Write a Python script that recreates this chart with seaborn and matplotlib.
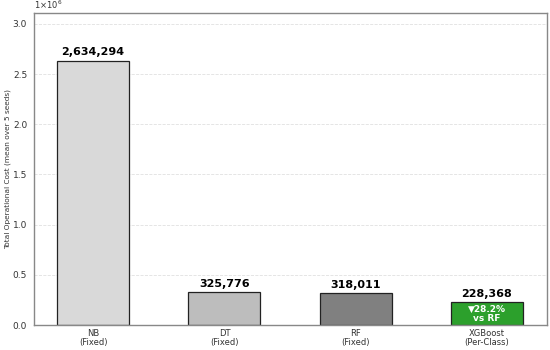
import matplotlib
matplotlib.use("Agg")
import matplotlib.pyplot as plt
import matplotlib.ticker as mticker
import seaborn as sns
import pandas as pd

models = ["NB\n(Fixed)", "DT\n(Fixed)", "RF\n(Fixed)", "XGBoost\n(Per-Class)"]
costs = [2634294, 325776, 318011, 228368]
colors = ["#d9d9d9", "#bdbdbd", "#808080", "#2ca02c"]

sns.set_style("white")
plt.rcParams["font.family"] = ["DejaVu Sans"]

df = pd.DataFrame({"model": models, "cost": costs})

fig, ax = plt.subplots(figsize=(5.5, 3.5), dpi=100)
fig.subplots_adjust(left=0.062, right=0.995, bottom=0.071, top=0.963)

sns.barplot(data=df, x="model", y="cost", hue="model", palette=colors, saturation=1,
            width=0.55, edgecolor="#222222", linewidth=0.9, legend=False, ax=ax)

ax.set_ylim(0, max(costs) * 1.18)
ax.set_xlim(-0.45, 3.46)
ax.yaxis.set_major_locator(mticker.MultipleLocator(500000))
ax.yaxis.set_major_formatter(mticker.FuncFormatter(lambda v, p: f"{v / 1e6:.1f}"))
ax.text(0, 1.005, "1×10$^6$", transform=ax.transAxes, fontsize=6, color="#333333",
        ha="left", va="bottom")

ax.grid(axis="y", linestyle="--", color="#cccccc", alpha=0.6, linewidth=0.6)
ax.set_axisbelow(True)
for s in ax.spines.values():
    s.set_color("#888888")
    s.set_linewidth(1.0)

ax.tick_params(axis="y", labelsize=6.5, colors="#333333", length=3, width=0.6, pad=2)
ax.tick_params(axis="x", labelsize=6, colors="#333333", length=2, width=0.6, pad=1)
ax.tick_params(axis="both", color="#888888")
for lbl in ax.get_xticklabels():
    lbl.set_linespacing(1.0)
ax.set_xlabel("")
ax.set_ylabel("Total Operational Cost (mean over 5 seeds)", fontsize=5.3, color="#333333",
              labelpad=1.5)

for i, c in enumerate(costs):
    ax.text(i, c + max(costs) * 0.012, f"{c:,}", ha="center", va="bottom",
            fontsize=8, fontweight="bold", color="black")

ax.text(3, costs[3] / 2, "▼28.2%\nvs RF", ha="center", va="center",
        fontsize=6.5, fontweight="bold", color="white", linespacing=1.0)

fig.savefig("out.png", dpi=100)
